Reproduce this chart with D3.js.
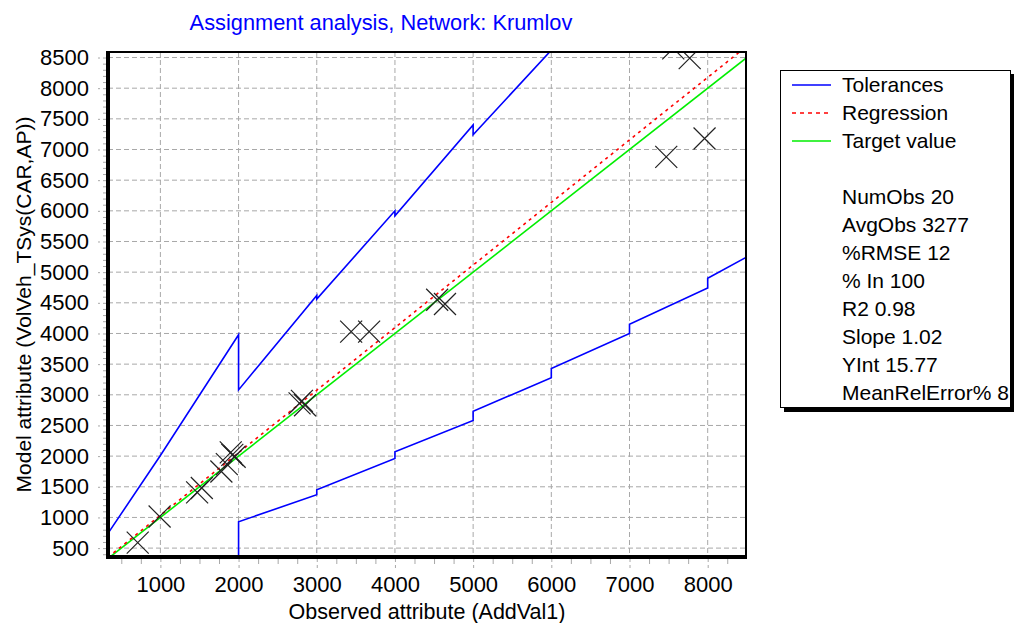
<!DOCTYPE html>
<html>
<head>
<meta charset="utf-8">
<script src="https://cdn.jsdelivr.net/npm/d3@7"></script>
<style>
  body { margin: 0; background: #fff; }
  svg { display: block; font-family: 'Liberation Sans', Arial, sans-serif; }
</style>
</head>
<body>
<div id="chart"></div>
<script>
// Observations (AddVal1) and model values (VolVeh_TSys(CAR,AP))
const observed = [710, 990, 1470, 1530, 1780, 1850, 1900, 1920, 1950, 2780, 2810, 2850, 3440, 3670, 4540, 4640, 7470, 7960, 7560, 7770];
const modelled = [590, 1015, 1410, 1480, 1750, 1870, 2060, 2020, 1990, 2860, 2900, 2830, 4030, 4030, 4550, 4480, 6880, 7180, 8650, 8490];

// Tolerance band as [observed, model] vertices
const upperTolerance = [[330, 740], [1000, 2010], [2000, 3980], [2000, 3080], [3000, 4620], [3000, 4560], [4000, 6000], [4000, 5920], [5000, 7400], [5000, 7240], [6000, 8620]];
const lowerTolerance = [[2000, 0], [2000, 930], [3000, 1370], [3000, 1450], [4000, 1960], [4000, 2070], [5000, 2580], [5000, 2730], [6000, 3280], [6000, 3430], [7000, 4000], [7000, 4150], [8000, 4740], [8000, 4900], [8490, 5240]];
const regressionLine = [[330, 352], [8490, 8676]];
const targetLine = [[330, 330], [8490, 8490]];

// Axis ticks
const xTicks = [1000, 2000, 3000, 4000, 5000, 6000, 7000, 8000];
const yTicks = [500, 1000, 1500, 2000, 2500, 3000, 3500, 4000, 4500, 5000, 5500, 6000, 6500, 7000, 7500, 8000, 8500];

// Legend content
const legendItems = ['Tolerances', 'Regression', 'Target value'];
const statLines = ['NumObs 20', 'AvgObs 3277', '%RMSE 12', '% In 100', 'R2 0.98', 'Slope 1.02', 'YInt 15.77', 'MeanRelError% 8'];

const width = 1014;
const height = 623;
const plot = { left: 108, right: 746, top: 52, bottom: 557 };
const gridColor = '#a8a8a8';
const fontFamily = "'Liberation Sans', Arial, sans-serif";

const svg = d3.select('#chart').append('svg')
  .attr('width', width)
  .attr('height', height);

const x = d3.scaleLinear().domain([330, 8490]).range([plot.left, plot.right]);
const y = d3.scaleLinear().domain([355, 8590]).range([plot.bottom, plot.top]);

svg.append('defs').append('clipPath')
  .attr('id', 'plotClip')
  .append('rect')
  .attr('x', plot.left)
  .attr('y', plot.top)
  .attr('width', plot.right - plot.left)
  .attr('height', plot.bottom - plot.top);

// Title
svg.append('text')
  .attr('x', 381)
  .attr('y', 30)
  .attr('text-anchor', 'middle')
  .attr('font-size', 21.8)
  .attr('fill', '#0000ff')
  .text('Assignment analysis, Network: Krumlov');

// Minor ticks
const xMinor = d3.range(500, 8490, 250).filter(v => v % 1000 !== 0);
const yMinor = d3.range(400, 8590, 100).filter(v => v % 500 !== 0);

svg.append('g')
  .attr('transform', `translate(0,${plot.bottom})`)
  .call(d3.axisBottom(x).tickValues(xMinor).tickSize(7).tickFormat(''))
  .call(g => g.select('.domain').remove())
  .call(g => g.selectAll('line').attr('stroke', gridColor));

svg.append('g')
  .attr('transform', `translate(${plot.left},0)`)
  .call(d3.axisLeft(y).tickValues(yMinor).tickSize(5).tickFormat(''))
  .call(g => g.select('.domain').remove())
  .call(g => g.selectAll('line').attr('stroke', gridColor));

// Major ticks with labels
svg.append('g')
  .attr('transform', `translate(0,${plot.bottom})`)
  .call(d3.axisBottom(x).tickValues(xTicks).tickSize(11).tickPadding(8).tickFormat(d3.format('d')))
  .call(g => g.select('.domain').remove())
  .call(g => g.selectAll('line').attr('stroke', gridColor).attr('stroke-dasharray', '5,3'))
  .call(g => g.selectAll('text').attr('font-size', 22).attr('fill', '#000')
    .attr('font-family', fontFamily));

svg.append('g')
  .attr('transform', `translate(${plot.left},0)`)
  .call(d3.axisLeft(y).tickValues(yTicks).tickSize(10).tickPadding(9).tickFormat(d3.format('d')))
  .call(g => g.select('.domain').remove())
  .call(g => g.selectAll('line').attr('stroke', gridColor).attr('stroke-dasharray', '5,3'))
  .call(g => g.selectAll('text').attr('font-size', 22).attr('fill', '#000')
    .attr('font-family', fontFamily));

// Dashed grid
const grid = svg.append('g').attr('stroke', gridColor).attr('stroke-dasharray', '5,3');

grid.selectAll('.vgrid')
  .data(xTicks)
  .join('line')
  .attr('x1', d => x(d))
  .attr('x2', d => x(d))
  .attr('y1', plot.top)
  .attr('y2', plot.bottom);

grid.selectAll('.hgrid')
  .data(yTicks)
  .join('line')
  .attr('x1', plot.left)
  .attr('x2', plot.right)
  .attr('y1', d => y(d))
  .attr('y2', d => y(d));

// Lines inside the plot
const line = d3.line().x(d => x(d[0])).y(d => y(d[1]));
const inner = svg.append('g').attr('clip-path', 'url(#plotClip)');

inner.append('path')
  .attr('d', line(targetLine))
  .attr('fill', 'none')
  .attr('stroke', '#00ee00')
  .attr('stroke-width', 1.6);

inner.append('path')
  .attr('d', line(regressionLine))
  .attr('fill', 'none')
  .attr('stroke', '#ff0000')
  .attr('stroke-width', 1.6)
  .attr('stroke-dasharray', '3,4');

inner.selectAll('.tolerance')
  .data([upperTolerance, lowerTolerance])
  .join('path')
  .attr('d', d => line(d))
  .attr('fill', 'none')
  .attr('stroke', '#0000ff')
  .attr('stroke-width', 1.6);

// Observation markers
const points = observed.map((v, i) => [v, modelled[i]]);
const half = 11;

inner.selectAll('.marker')
  .data(points)
  .join('path')
  .attr('d', d => {
    const cx = x(d[0]);
    const cy = y(d[1]);
    return `M${cx - half},${cy - half}L${cx + half},${cy + half}M${cx - half},${cy + half}L${cx + half},${cy - half}`;
  })
  .attr('fill', 'none')
  .attr('stroke', '#222')
  .attr('stroke-width', 1.2);

// Plot frame: thin top/right, heavy left/bottom
svg.append('rect')
  .attr('x', plot.left)
  .attr('y', plot.top)
  .attr('width', plot.right - plot.left)
  .attr('height', plot.bottom - plot.top)
  .attr('fill', 'none')
  .attr('stroke', '#000')
  .attr('stroke-width', 2);

svg.append('path')
  .attr('d', `M${plot.left},${plot.top - 1}V${plot.bottom}H${plot.right + 1}`)
  .attr('fill', 'none')
  .attr('stroke', '#000')
  .attr('stroke-width', 4);

// Axis titles
svg.append('text')
  .attr('x', (plot.left + plot.right) / 2)
  .attr('y', 619)
  .attr('text-anchor', 'middle')
  .attr('font-size', 21.5)
  .text('Observed attribute (AddVal1)');

svg.append('text')
  .attr('transform', `translate(31,${(plot.top + plot.bottom) / 2}) rotate(-90)`)
  .attr('text-anchor', 'middle')
  .attr('font-size', 21)
  .text('Model attribute (VolVeh_TSys(CAR,AP))');

// Legend box with drop shadow
const legend = svg.append('g');

legend.append('rect')
  .attr('x', 784)
  .attr('y', 74)
  .attr('width', 230)
  .attr('height', 338)
  .attr('fill', '#000');

legend.append('rect')
  .attr('x', 780.5)
  .attr('y', 70.5)
  .attr('width', 230)
  .attr('height', 337)
  .attr('fill', '#fff')
  .attr('stroke', '#000')
  .attr('stroke-width', 1);

const legendStyles = [
  { color: '#0000ff', dash: null },
  { color: '#ff0000', dash: '4,4' },
  { color: '#00ee00', dash: null }
];

legend.selectAll('.swatch')
  .data(legendStyles)
  .join('line')
  .attr('x1', 792)
  .attr('x2', 831)
  .attr('y1', (d, i) => 85 + i * 28)
  .attr('y2', (d, i) => 85 + i * 28)
  .attr('stroke', d => d.color)
  .attr('stroke-width', 1.6)
  .attr('stroke-dasharray', d => d.dash);

const rows = legendItems.concat([''], statLines);

legend.selectAll('.row')
  .data(rows)
  .join('text')
  .attr('x', 842)
  .attr('y', (d, i) => 92 + i * 28)
  .attr('font-size', 21)
  .text(d => d);
</script>
</body>
</html>
